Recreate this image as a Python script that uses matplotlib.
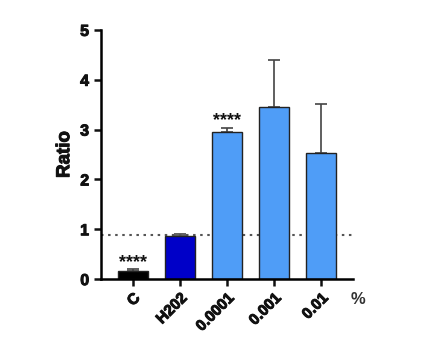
import matplotlib
matplotlib.use("Agg")
import matplotlib.pyplot as plt
import matplotlib.patheffects as pe

categories = ["C", "H202", "0.0001", "0.001", "0.01"]
values = [0.17, 0.86, 2.95, 3.46, 2.53]
errors = [0.04, 0.05, 0.09, 0.94, 0.98]
colors = ["#000000", "#0000C8", "#4F9DF7", "#4F9DF7", "#4F9DF7"]
reference_line = 0.88
stars = ["****", "", "****", "", ""]

plt.rcParams['font.family'] = ['Liberation Sans', 'DejaVu Sans']
heavy = [pe.withStroke(linewidth=0.7, foreground="#111111")]

fig = plt.figure(figsize=(4.37, 3.56), dpi=100)
ax = fig.add_axes([0.231, 0.216, 0.577, 0.700])

x = list(range(len(categories)))
ax.bar(x, values, width=0.64, color=colors, edgecolor="#222222", linewidth=1.0, zorder=2)
ax.errorbar(x, values, yerr=[[0]*len(errors), errors], fmt="none", ecolor="#444444",
            elinewidth=1.2, capsize=4, capthick=1.2, zorder=1)
ax.axhline(reference_line, color="#555555", linestyle=(0, (1.2, 2.2)), linewidth=1.5, zorder=1)

for xi, v, e, s in zip(x, values, errors, stars):
    if s:
        ax.text(xi, v + e - 0.04, s, ha="center", va="bottom", fontsize=13,
                fontweight="bold", color="#111111")

ax.set_xlim(-0.68, 4.68)
ax.set_ylim(0, 5)
ax.set_yticks([0, 1, 2, 3, 4, 5])
ax.set_xticks(x)
ax.set_xticklabels(categories, rotation=45, ha="right", rotation_mode="anchor",
                   fontsize=11, fontweight="bold", color="#111111")
for lbl in ax.get_yticklabels():
    lbl.set_fontweight("bold")
    lbl.set_fontsize(11.5)
    lbl.set_color("#111111")
    lbl.set_path_effects(heavy)
for lbl in ax.get_xticklabels():
    lbl.set_path_effects(heavy)
ax.set_ylabel("Ratio", fontsize=13.5, fontweight="bold", labelpad=5, color="#111111",
              path_effects=heavy)
ax.spines["top"].set_visible(False)
ax.spines["right"].set_visible(False)
ax.spines["left"].set_linewidth(1.8)
ax.spines["bottom"].set_linewidth(1.8)
ax.tick_params(axis="both", width=1.8, length=5, colors="#111111")
ax.text(0.99, -0.05, "%", transform=ax.transAxes, ha="left", va="top",
        fontsize=12, fontweight="bold", color="#333333")

fig.savefig("out.png", dpi=100)
